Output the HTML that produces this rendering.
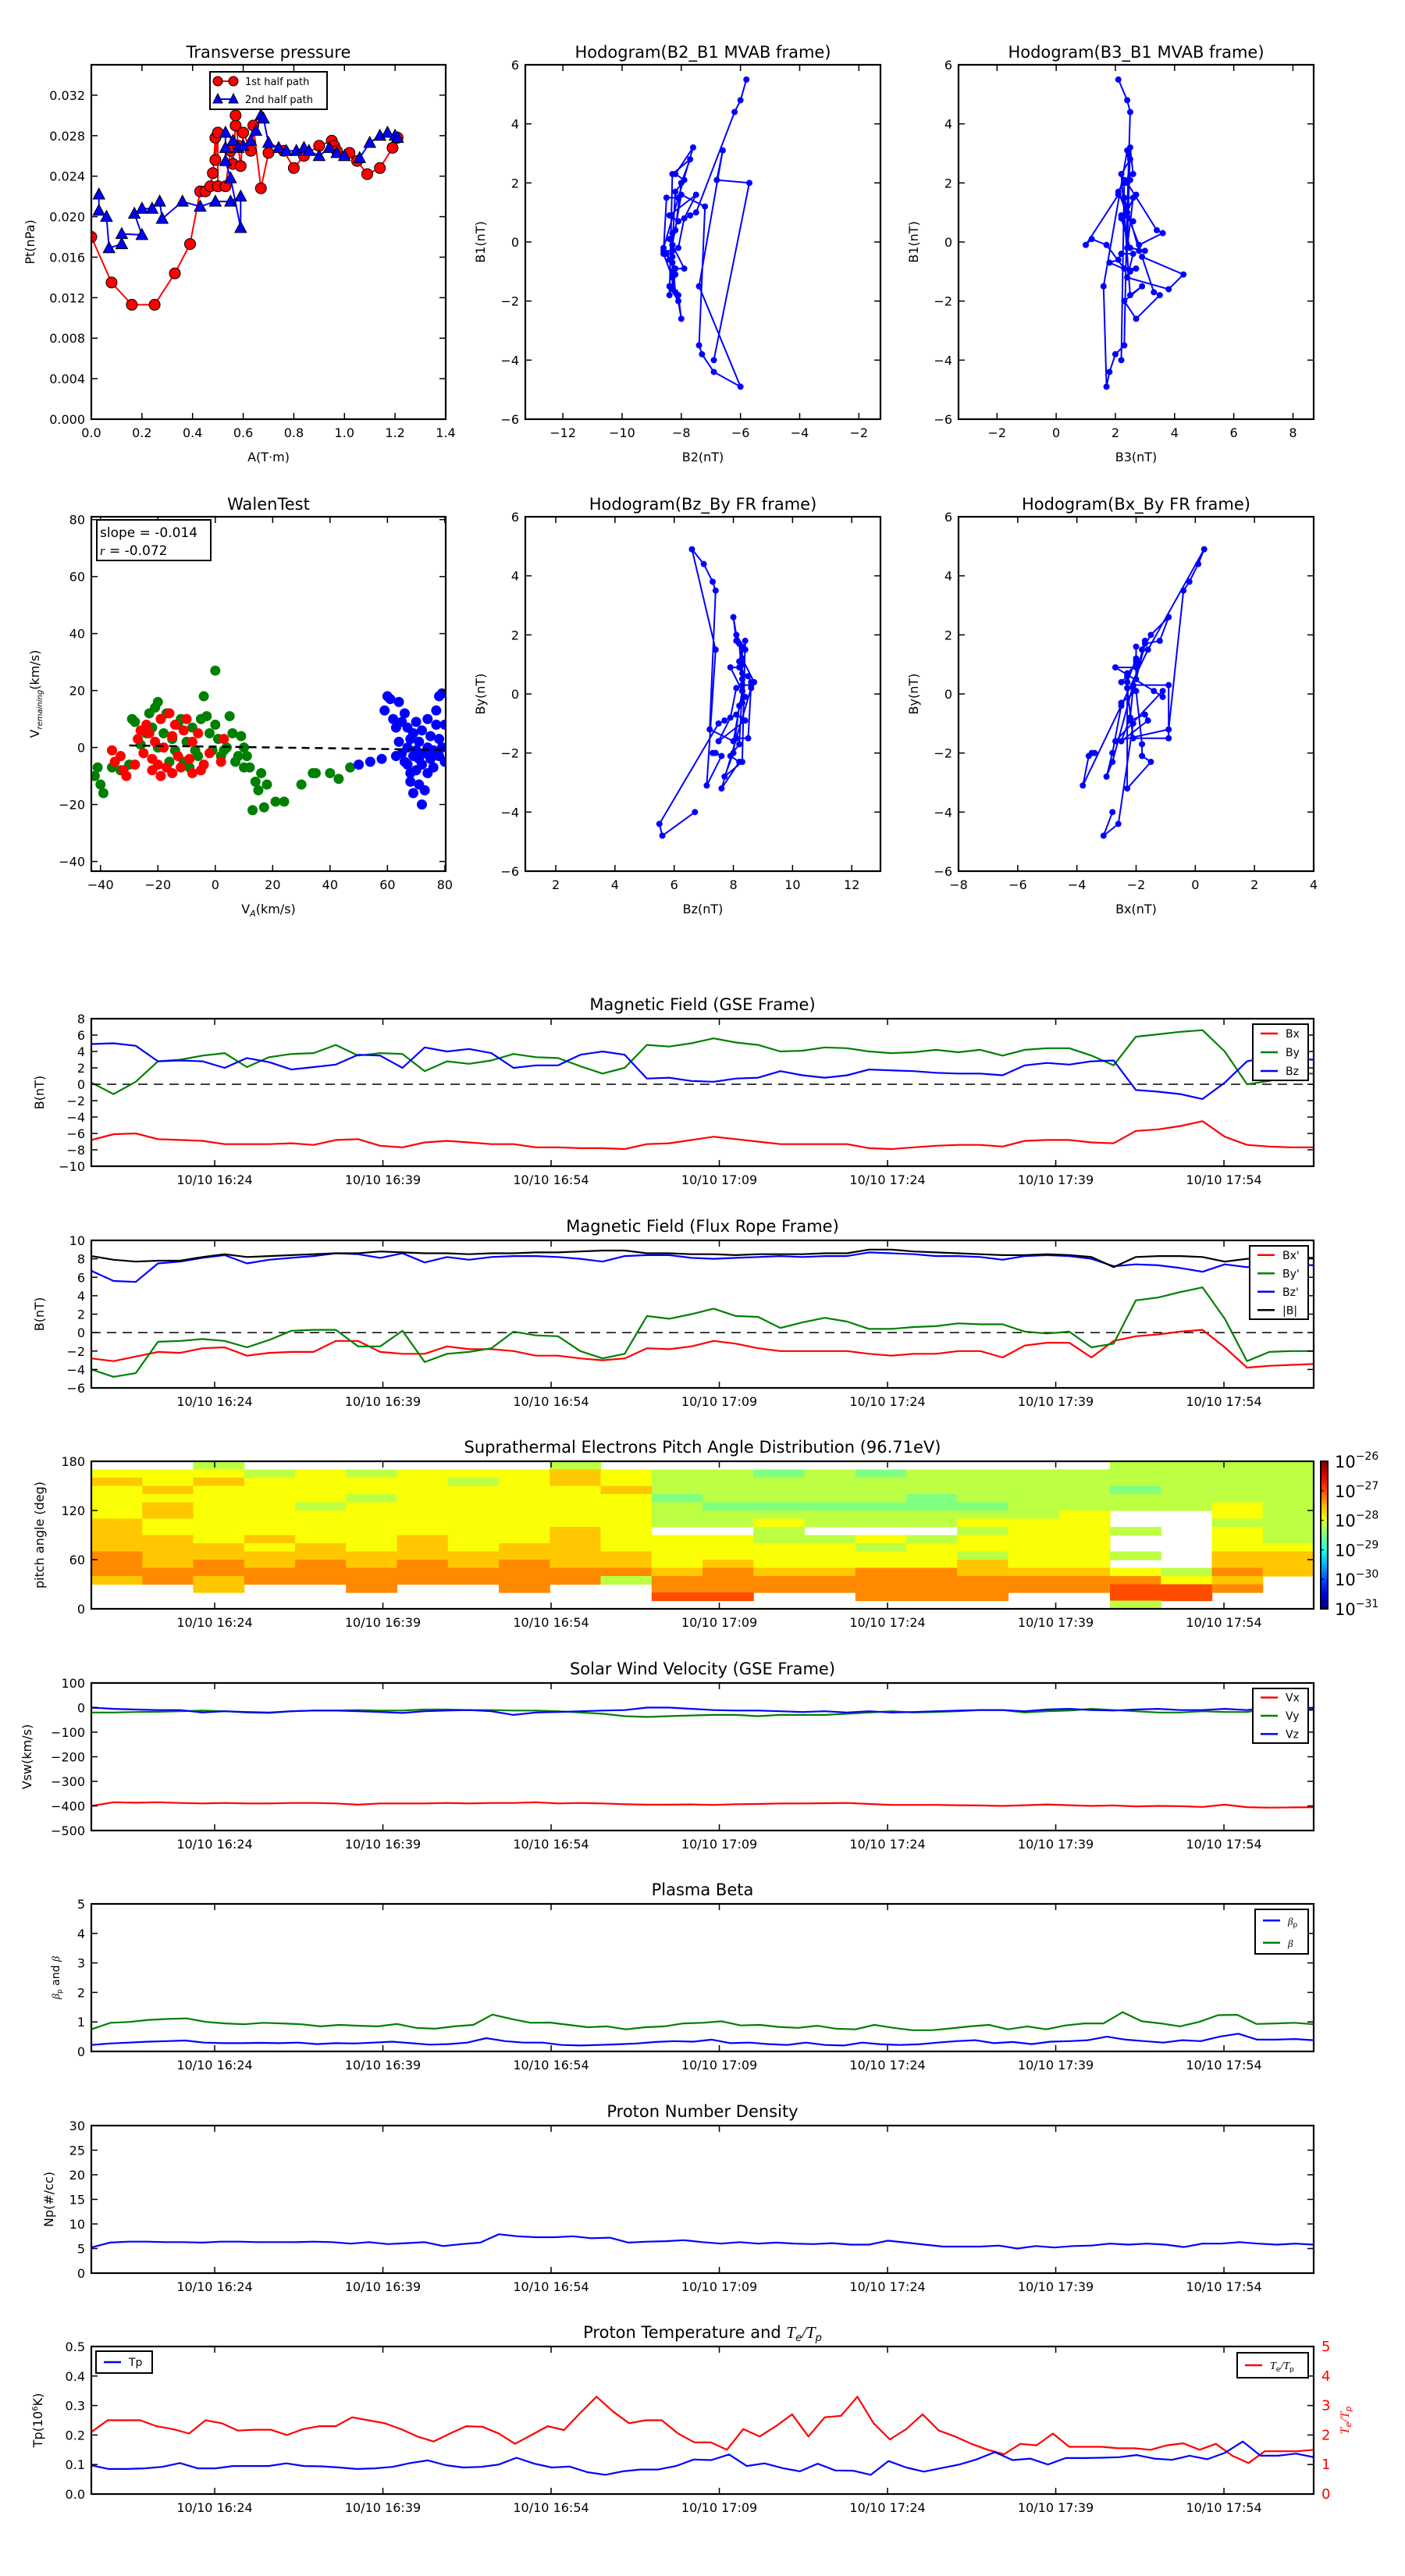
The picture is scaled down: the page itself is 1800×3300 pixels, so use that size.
<!DOCTYPE html>
<html><head><meta charset="utf-8"><title>Flux rope analysis</title>
<style>
html,body{margin:0;padding:0;background:#fff;}
svg{display:block;}
text{font-family:"DejaVu Sans","Liberation Sans",sans-serif;}
</style></head>
<body>
<svg id="fig" width="1800" height="3300" viewBox="0 0 1800 3300" xmlns="http://www.w3.org/2000/svg">
<rect x="0" y="0" width="1800" height="3300" fill="#fff"/>
</svg>
<script>
// ---------------- DATA ----------------
const tp1A = [0,0.08,0.16,0.25,0.33,0.39,0.43,0.45,0.47,0.48,0.49,0.49,0.5,0.5,0.53,0.55,0.56,0.57,0.57,0.58,0.59,0.6,0.63,0.64,0.67,0.7,0.76,0.8,0.84,0.9,0.95,0.96,0.97,1.02,1.05,1.09,1.14,1.19,1.21];
const tp1P = [0.018,0.0135,0.0113,0.0113,0.0144,0.0173,0.0225,0.0225,0.023,0.0243,0.0278,0.0256,0.0283,0.023,0.023,0.0265,0.0252,0.029,0.030,0.027,0.025,0.0283,0.0265,0.029,0.0228,0.0263,0.0265,0.0248,0.026,0.027,0.0275,0.027,0.0265,0.0263,0.0255,0.0242,0.0248,0.0268,0.0278];
const tp2A = [0.03,0.03,0.06,0.07,0.12,0.12,0.2,0.17,0.2,0.24,0.27,0.28,0.36,0.43,0.49,0.55,0.59,0.59,0.55,0.53,0.53,0.53,0.56,0.58,0.6,0.63,0.65,0.67,0.68,0.7,0.74,0.77,0.81,0.84,0.86,0.9,0.94,0.97,1.0,1.06,1.1,1.14,1.17,1.2,1.21];
const tp2P = [0.0222,0.0206,0.020,0.0169,0.0173,0.0183,0.0182,0.0203,0.0208,0.0208,0.0215,0.0198,0.0215,0.021,0.0215,0.0215,0.022,0.0189,0.0238,0.0255,0.0268,0.0283,0.0275,0.0268,0.027,0.0275,0.0285,0.030,0.0297,0.0273,0.0268,0.0265,0.0265,0.0268,0.0265,0.026,0.0268,0.0263,0.026,0.0258,0.0273,0.028,0.0283,0.028,0.0278];

const mvB1 = [5.5,4.8,4.4,1.0,0.9,0.7,0.9,1.6,0.8,-0.2,-0.3,-0.3,1.5,1.5,-0.2,3.2,2.3,2.1,1.7,-0.1,0.3,0.4,2.0,2.8,2.3,-1.8,-1.5,-2.0,-2.6,-1.8,-1.7,-0.5,-1.1,-1.6,-1.2,-0.4,-0.4,-0.6,-0.7,-1.0,-0.9,-0.9,-0.1,0.1,-0.1,1.6,1.2,-3.5,-3.8,-4.4,-4.9,-1.5,3.1,2.1,2.0,-4.0];
const mvB2 = [-5.8,-6.0,-6.2,-7.5,-7.7,-8.1,-8.4,-7.5,-7.9,-8.1,-8.3,-8.6,-8.5,-8.1,-8.6,-7.6,-8.2,-7.9,-8.2,-8.3,-8.3,-8.2,-8.0,-7.7,-8.3,-8.4,-8.4,-8.1,-8.0,-8.1,-8.2,-8.3,-8.2,-8.3,-8.3,-8.6,-8.5,-8.4,-8.3,-8.3,-8.2,-7.9,-8.3,-8.4,-8.3,-8.0,-7.2,-7.4,-7.3,-6.9,-6.0,-7.4,-6.6,-6.8,-5.7,-6.9];
const mvB3 = [2.1,2.4,2.5,2.4,2.2,2.6,2.3,2.7,2.2,2.5,3.0,2.8,2.3,2.6,2.4,2.5,2.6,2.3,2.1,2.8,3.6,3.4,2.4,2.5,2.2,2.5,2.9,2.3,2.7,3.5,3.3,2.9,4.3,3.8,2.4,2.6,2.2,2.1,1.8,2.5,2.7,2.3,1.7,1.2,1.0,2.1,2.4,2.3,2.0,1.8,1.7,1.6,2.4,2.5,2.3,2.2];

const gseBx = [-6.8,-6.1,-6.0,-6.7,-6.8,-6.9,-7.3,-7.3,-7.3,-7.2,-7.4,-6.8,-6.7,-7.5,-7.7,-7.1,-6.9,-7.1,-7.3,-7.3,-7.7,-7.7,-7.8,-7.8,-7.9,-7.3,-7.2,-6.8,-6.4,-6.7,-7.0,-7.3,-7.3,-7.3,-7.3,-7.8,-7.9,-7.7,-7.5,-7.4,-7.4,-7.6,-6.9,-6.8,-6.8,-7.1,-7.2,-5.7,-5.5,-5.1,-4.5,-6.4,-7.4,-7.6,-7.7,-7.7];
const gseBy = [0.2,-1.2,0.3,2.8,3.0,3.5,3.8,2.1,3.3,3.7,3.8,4.8,3.5,3.8,3.7,1.6,2.8,2.5,2.9,3.7,3.3,3.2,2.2,1.3,2.0,4.8,4.6,5.0,5.6,5.1,4.8,4.0,4.1,4.5,4.4,4.0,3.8,3.9,4.2,3.9,4.2,3.5,4.2,4.4,4.4,3.5,2.3,5.8,6.1,6.4,6.6,4.0,0.0,0.4,1.3,1.3];
const gseBz = [4.9,5.0,4.7,2.8,2.9,2.8,2.0,3.2,2.7,1.8,2.1,2.4,3.6,3.5,2.0,4.5,4.0,4.3,3.8,2.0,2.3,2.3,3.6,4.0,3.6,0.7,0.8,0.4,0.3,0.7,0.8,1.6,1.1,0.8,1.1,1.8,1.7,1.6,1.4,1.3,1.3,1.1,2.3,2.6,2.4,2.8,2.9,-0.7,-0.9,-1.2,-1.8,0.2,2.8,3.3,3.1,3.0];

const frBx = [-2.8,-3.1,-2.6,-2.1,-2.2,-1.7,-1.6,-2.5,-2.2,-2.1,-2.1,-0.9,-0.9,-2.1,-2.3,-2.3,-1.5,-1.8,-1.8,-2.0,-2.5,-2.5,-2.8,-3.0,-2.8,-1.7,-1.8,-1.5,-0.9,-1.2,-1.7,-2.0,-2.0,-2.0,-2.0,-2.3,-2.5,-2.3,-2.3,-2.0,-2.0,-2.7,-1.4,-1.1,-1.1,-2.7,-0.9,-0.4,-0.2,0.1,0.3,-1.6,-3.8,-3.6,-3.5,-3.4];
const frBy = [-4.0,-4.8,-4.4,-1.0,-0.9,-0.7,-0.9,-1.6,-0.8,0.2,0.3,0.3,-1.5,-1.5,0.2,-3.2,-2.3,-2.1,-1.7,0.1,-0.3,-0.4,-2.0,-2.8,-2.3,1.8,1.5,2.0,2.6,1.8,1.7,0.5,1.1,1.6,1.2,0.4,0.4,0.6,0.7,1.0,0.9,0.9,0.1,-0.1,0.1,-1.6,-1.2,3.5,3.8,4.4,4.9,1.5,-3.1,-2.1,-2.0,-2.0];
const frBz = [6.7,5.6,5.5,7.5,7.7,8.1,8.4,7.5,7.9,8.1,8.3,8.6,8.5,8.1,8.6,7.6,8.2,7.9,8.2,8.3,8.3,8.2,8.0,7.7,8.3,8.4,8.4,8.1,8.0,8.1,8.2,8.3,8.2,8.3,8.3,8.7,8.6,8.5,8.3,8.3,8.2,7.9,8.3,8.4,8.3,8.0,7.2,7.4,7.3,7.0,6.6,7.4,7.1,7.6,7.4,7.3];
const frBt = [8.3,7.9,7.7,7.8,7.8,8.2,8.5,8.2,8.3,8.4,8.5,8.6,8.6,8.8,8.7,8.6,8.6,8.5,8.6,8.6,8.7,8.7,8.8,8.9,8.9,8.6,8.6,8.5,8.5,8.4,8.5,8.5,8.5,8.6,8.6,9.0,9.0,8.8,8.7,8.6,8.5,8.4,8.4,8.5,8.4,8.2,7.1,8.2,8.3,8.3,8.2,7.7,8.0,8.1,8.1,8.1];

const padLevels = {'g':-28.5,'l':-28.2,'y':-27.9,'o':-27.6,'O':-27.3,'r':-27.0};
const padRows = [
 "..l......l.........." + "llll",
 "yyylylyyyoyllglgllll" + "llll",
 "oyoyyyylyoylllllllll" + "llll",
 "yoyyyyyyyyolllllllll" + "glll",
 "yyyyylyyyyygllllglll" + "llll",
 "yoyylyyyyyylggggggll" + "llyl",
 "yoyyyyyyyyylllllllly" + "..yl",
 "oyyyyyyyyyyllylllyyy" + "..ll",
 "oyyyyyyyyoy..l...lyy" + "l.yl",
 "ooyoyyoyyoyyyllylyyy" + "..yl",
 "oooyoyoyooyyyyylyyyy" + "..yy",
 "Oooooooooooyyyyyylyy" + "l.oo",
 "OoOoOoOoOooyoyyyyoyy" + "..oo",
 "OOOOOOOOOOOoOooOOooo" + "ylOo",
 "oOoOOOOOOOlOOOOOOOOO" + "Oyo.",
 "..o..O..O..OOOOOOOOO" + "rrO.",
 "...........rr..OOO.." + "rr..",
 "...................." + "l..."
];

const swVx = [-400,-385,-387,-385,-388,-390,-388,-390,-390,-388,-388,-390,-395,-390,-390,-390,-388,-390,-388,-388,-385,-390,-388,-390,-393,-395,-395,-394,-396,-393,-392,-390,-390,-389,-388,-392,-396,-396,-396,-397,-398,-400,-397,-394,-397,-400,-398,-402,-400,-401,-404,-395,-405,-407,-406,-405];
const swVy = [-20,-20,-18,-17,-15,-12,-15,-20,-22,-15,-12,-12,-10,-12,-12,-8,-8,-10,-10,-12,-12,-15,-20,-25,-35,-38,-35,-32,-30,-30,-35,-30,-30,-30,-25,-20,-15,-20,-18,-15,-10,-10,-20,-15,-12,-5,-10,-15,-20,-20,-15,-18,-18,-5,-10,-10];
const swVz = [0,-5,-8,-10,-10,-20,-15,-18,-20,-15,-12,-12,-15,-18,-22,-15,-12,-10,-15,-30,-20,-18,-15,-12,-10,0,0,-5,-10,-12,-12,-15,-18,-15,-20,-15,-20,-18,-15,-12,-10,-10,-15,-8,-5,-10,-12,-8,-5,-10,-10,-5,-10,0,-15,-5];

const betaAll = [0.75,0.97,1.0,1.07,1.1,1.12,1.0,0.95,0.92,0.97,0.95,0.92,0.85,0.9,0.87,0.85,0.93,0.8,0.77,0.85,0.9,1.25,1.1,0.97,0.98,0.9,0.82,0.85,0.75,0.82,0.85,0.95,0.97,1.02,0.88,0.9,0.83,0.8,0.87,0.77,0.75,0.9,0.8,0.72,0.72,0.78,0.85,0.9,0.75,0.85,0.75,0.88,0.95,0.95,1.33,1.02,0.95,0.85,1.0,1.23,1.24,0.93,0.95,0.97,0.92];
const betaP = [0.22,0.27,0.3,0.33,0.35,0.37,0.3,0.28,0.28,0.29,0.28,0.3,0.25,0.28,0.27,0.3,0.33,0.28,0.23,0.25,0.3,0.45,0.35,0.3,0.3,0.22,0.2,0.22,0.24,0.27,0.32,0.35,0.33,0.4,0.28,0.3,0.25,0.22,0.3,0.22,0.2,0.3,0.24,0.22,0.24,0.3,0.35,0.38,0.28,0.32,0.25,0.33,0.35,0.38,0.5,0.4,0.35,0.3,0.38,0.35,0.5,0.6,0.4,0.4,0.42,0.38];

const npVals = [5.2,6.2,6.4,6.4,6.3,6.3,6.2,6.4,6.4,6.3,6.3,6.3,6.4,6.3,6.0,6.3,5.9,6.1,6.3,5.5,5.9,6.2,7.9,7.5,7.3,7.3,7.5,7.1,7.2,6.2,6.4,6.5,6.7,6.3,6.0,6.3,6.0,6.2,6.0,5.9,6.1,5.8,5.8,6.6,6.2,5.8,5.4,5.4,5.4,5.6,5.0,5.5,5.2,5.5,5.6,6.0,5.8,6.0,5.8,5.3,6.0,6.0,6.3,6.0,5.8,6.0,5.8];

const tpVals = [0.097,0.085,0.085,0.087,0.092,0.105,0.087,0.087,0.095,0.095,0.095,0.104,0.095,0.094,0.09,0.085,0.087,0.092,0.105,0.114,0.098,0.09,0.092,0.1,0.123,0.103,0.09,0.093,0.074,0.065,0.077,0.083,0.083,0.095,0.117,0.115,0.134,0.095,0.104,0.088,0.077,0.103,0.08,0.079,0.065,0.112,0.09,0.076,0.088,0.1,0.118,0.142,0.115,0.12,0.1,0.122,0.122,0.123,0.125,0.132,0.12,0.116,0.13,0.118,0.14,0.178,0.13,0.13,0.137,0.125];
const teTpVals = [2.1,2.5,2.5,2.5,2.3,2.2,2.05,2.5,2.4,2.15,2.18,2.18,2.0,2.2,2.3,2.3,2.6,2.5,2.4,2.2,1.95,1.78,2.05,2.3,2.28,2.05,1.7,2.0,2.3,2.17,2.75,3.3,2.8,2.4,2.5,2.5,2.05,1.75,1.75,1.5,2.2,1.95,2.3,2.7,1.95,2.6,2.65,3.3,2.4,1.85,2.2,2.7,2.15,1.95,1.7,1.5,1.35,1.7,1.65,2.05,1.6,1.6,1.6,1.55,1.55,1.5,1.65,1.72,1.5,1.7,1.3,1.05,1.45,1.45,1.45,1.5];

const walRedX = [-36,-33,-35,-32,-31,-28,-27,-26,-25,-24,-23,-22,-22,-21,-20,-19,-19,-18,-17,-16,-15,-15,-14,-13,-12,-11,-10,-9,-8,-8,-6,-5,-4,-2,2,3];
const walRedY = [-1,-3,-5,-8,-10,-6,3,6,-2,8,5,-4,-8,2,-6,10,-10,0,-7,12,4,-9,8,-3,-7,6,10,-4,2,-9,5,-8,-6,-2,-5,3];
const walGreenX = [-42,-41,-40,-39,-36,-33,-30,-29,-28,-26,-24,-23,-22,-21,-20,-20,-19,-18,-17,-16,-15,-14,-13,-12,-11,-10,-9,-8,-7,-6,-5,-4,-3,-2,-1,0,0,1,2,3,4,5,6,7,8,9,10,10,11,12,13,14,15,16,17,18,21,24,30,34,35,40,43,47];
const walGreenY = [-10,-7,-13,-16,-7,-8,-6,10,9,1,5,12,7,14,16,0,10,5,12,-5,3,-1,8,10,-5,2,-7,7,-1,-3,10,18,11,5,-1,27,8,3,-3,-1,0,11,5,-5,-3,4,-7,0,-3,-7,-22,-12,-15,-9,-21,-13,-19,-19,-13,-9,-9,-9,-11,-7];
const walBlueX = [50,54,58,59,60,61,62,63,63,64,64,65,65,66,66,67,67,67,68,68,68,69,69,69,70,70,70,71,71,71,72,72,72,73,73,74,74,74,75,75,76,76,77,77,78,78,78,79,79,80,80];
const walBlueY = [-6,-5,-4,13,18,17,10,7,-3,16,2,-2,9,-5,12,0,-6,7,-9,3,-12,5,-3,-16,9,-1,-8,-4,2,-13,-20,-6,6,-2,-15,-9,0,10,-4,4,-7,-1,8,13,-3,3,18,19,0,8,-5];
const walSlope = -0.014;
const walIntercept = 0.3;

const timeRange = [0, 109];
const timeTicks = [11, 26, 41, 56, 71, 86, 101];
const timeTickLabels = ['10/10 16:24','10/10 16:39','10/10 16:54','10/10 17:09','10/10 17:24','10/10 17:39','10/10 17:54'];

// ---------------- DRAWING ----------------
const NS = 'http://www.w3.org/2000/svg';
const svg = document.getElementById('fig');
let clipN = 0;
function mk(tag, attrs, parent) {
  const e = document.createElementNS(NS, tag);
  for (const k in attrs) e.setAttribute(k, attrs[k]);
  (parent || svg).appendChild(e);
  return e;
}
function txt(str, x, y, attrs, parent) {
  const t = mk('text', Object.assign({x: x, y: y, 'font-size': 16, fill: '#000'}, attrs || {}), parent);
  t.textContent = str;
  return t;
}
function makeAxes(name, x0, y0, w, h, xr, yr) {
  const g = mk('g', {});
  
  
  const id = 'clip' + (clipN++);
  const cp = mk('clipPath', {id: id}, g);
  mk('rect', {x: x0, y: y0, width: w, height: h}, cp);
  const plot = mk('g', {'clip-path': 'url(#' + id + ')'}, g);
  
  
  const sx = v => x0 + (v - xr[0]) / (xr[1] - xr[0]) * w;
  const sy = v => y0 + h - (v - yr[0]) / (yr[1] - yr[0]) * h;
  return {g, plot, sx, sy, x0, y0, w, h, name};
}
function frame(ax) {
  const r = mk('rect', {x: ax.x0, y: ax.y0, width: ax.w, height: ax.h, fill: 'none', stroke: '#000', 'stroke-width': 2.2}, ax.g);
  
  
}
function xTicks(ax, vals, labels, size) {
  const gt = mk('g', {}, ax.g);
  
  
  vals.forEach((v, i) => {
    const x = ax.sx(v);
    mk('line', {x1: x, x2: x, y1: ax.y0 + ax.h, y2: ax.y0 + ax.h - 8, stroke: '#000', 'stroke-width': 1.5}, gt);
    mk('line', {x1: x, x2: x, y1: ax.y0, y2: ax.y0 + 8, stroke: '#000', 'stroke-width': 1.5}, gt);
    const t = txt(labels[i], x, ax.y0 + ax.h + 23, {'text-anchor': 'middle', 'font-size': size || 16}, gt);
    
    
  });
}
function yTicks(ax, vals, labels, size, right, color) {
  const gt = mk('g', {}, ax.g);
  
  
  vals.forEach((v, i) => {
    const y = ax.sy(v);
    if (!right) {
      mk('line', {x1: ax.x0, x2: ax.x0 + 8, y1: y, y2: y, stroke: '#000', 'stroke-width': 1.5}, gt);
      mk('line', {x1: ax.x0 + ax.w, x2: ax.x0 + ax.w - 8, y1: y, y2: y, stroke: '#000', 'stroke-width': 1.5}, gt);
      const t = txt(labels[i], ax.x0 - 8, y + 6, {'text-anchor': 'end', 'font-size': size || 16}, gt);
      
      
    } else {
      const t = txt(labels[i], ax.x0 + ax.w + 10, y + 6, {'text-anchor': 'start', 'font-size': size || 16, fill: color}, gt);
      
      
    }
  });
}
function title(ax, str, y) {
  const t = txt(str, ax.x0 + ax.w / 2, y, {'text-anchor': 'middle', 'font-size': 21}, ax.g);
  
  
  return t;
}
function yLabel(ax, str, x) {
  const cy = ax.y0 + ax.h / 2;
  const t = txt(str, x, cy, {'text-anchor': 'middle', 'font-size': 16, transform: 'rotate(-90 ' + x + ' ' + cy + ')'}, ax.g);
  
  
  return t;
}
function xLabel(ax, str, y) {
  const t = txt(str, ax.x0 + ax.w / 2, y, {'text-anchor': 'middle', 'font-size': 16}, ax.g);
  
  
  return t;
}
function series(ax, vals, color, name, yscale) {
  const sy = yscale || ax.sy;
  const n = vals.length;
  const pts = vals.map((v, i) => ax.sx(timeRange[0] + i * (timeRange[1] - timeRange[0]) / (n - 1)).toFixed(1) + ',' + sy(v).toFixed(1)).join(' ');
  const p = mk('polyline', {points: pts, fill: 'none', stroke: color, 'stroke-width': 2.2, 'stroke-linejoin': 'round'}, ax.plot);
  
  
  return p;
}
function zeroLine(ax, v) {
  const y = ax.sy(v);
  const l = mk('line', {x1: ax.x0, x2: ax.x0 + ax.w, y1: y, y2: y, stroke: '#000', 'stroke-width': 1.5, 'stroke-dasharray': '12,8'}, ax.plot);
  
  
}
function legend(ax, x, y, w, h, entries, fs) {
  const g = mk('g', {}, ax.g);
  
  
  mk('rect', {x: x, y: y, width: w, height: h, fill: '#fff', stroke: '#000', 'stroke-width': 2}, g);
  const step = h / entries.length;
  entries.forEach((e, i) => {
    const cy = y + step * (i + 0.5);
    const eg = mk('g', {}, g);
    
    
    mk('line', {x1: x + 10, x2: x + 32, y1: cy, y2: cy, stroke: e.color, 'stroke-width': 2.5}, eg);
    const t = txt('', x + 42, cy + 5, {'font-size': fs || 14}, eg);
    t.innerHTML = e.label;
  });
}
function hodogram(name, x0, xr, xs, ys, xticks, xlab, ylab, ttl, y0) {
  const ax = makeAxes(name, x0, y0, 455, 454, xr, [-6, 6]);
  const pts = xs.map((v, i) => ax.sx(v).toFixed(1) + ',' + ax.sy(ys[i]).toFixed(1)).join(' ');
  const pl = mk('polyline', {points: pts, fill: 'none', stroke: '#0000ff', 'stroke-width': 2}, ax.plot);
  
  
  xs.forEach((v, i) => {
    const c = mk('circle', {cx: ax.sx(v), cy: ax.sy(ys[i]), r: 4, fill: '#0000ff'}, ax.plot);
    
    
  });
  frame(ax);
  xTicks(ax, xticks, xticks.map(v => String(v).replace('-', '\u2212')));
  const yt = [-6, -4, -2, 0, 2, 4, 6];
  yTicks(ax, yt, yt.map(v => String(v).replace('-', '\u2212')));
  title(ax, ttl, y0 - 9);
  xLabel(ax, xlab, y0 + 454 + 54);
  yLabel(ax, ylab, x0 - 52);
  return ax;
}

// ---- Transverse pressure ----
(function () {
  const ax = makeAxes('transverse-pressure-chart', 117, 83, 454, 454, [0, 1.4], [0, 0.035]);
  const p1 = tp1A.map((v, i) => ax.sx(v).toFixed(1) + ',' + ax.sy(tp1P[i]).toFixed(1)).join(' ');
  const l1 = mk('polyline', {points: p1, fill: 'none', stroke: '#ff0000', 'stroke-width': 2}, ax.plot);
  
  
  const p2 = tp2A.map((v, i) => ax.sx(v).toFixed(1) + ',' + ax.sy(tp2P[i]).toFixed(1)).join(' ');
  const l2 = mk('polyline', {points: p2, fill: 'none', stroke: '#0000ff', 'stroke-width': 2}, ax.plot);
  
  
  tp1A.forEach((v, i) => {
    const c = mk('circle', {cx: ax.sx(v), cy: ax.sy(tp1P[i]), r: 7, fill: '#ff0000', stroke: '#000', 'stroke-width': 1}, ax.plot);
    
    
  });
  tp2A.forEach((v, i) => {
    const x = ax.sx(v), y = ax.sy(tp2P[i]);
    const t = mk('polygon', {points: `${x},${y - 8} ${x - 7.5},${y + 6} ${x + 7.5},${y + 6}`, fill: '#0000ff', stroke: '#000', 'stroke-width': 1}, ax.plot);
    
    
  });
  frame(ax);
  const xt = [0, 0.2, 0.4, 0.6, 0.8, 1.0, 1.2, 1.4];
  xTicks(ax, xt, xt.map(v => v.toFixed(1)));
  const yt = [0, 0.004, 0.008, 0.012, 0.016, 0.020, 0.024, 0.028, 0.032];
  yTicks(ax, yt, yt.map(v => v.toFixed(3)));
  title(ax, 'Transverse pressure', 74);
  xLabel(ax, 'A(T\u00b7m)', 591);
  yLabel(ax, 'Pt(nPa)', 44);
  const g = mk('g', {}, ax.g);
  
  
  mk('rect', {x: 269, y: 92, width: 150, height: 48, fill: '#fff', stroke: '#000', 'stroke-width': 2}, g);
  const e1 = mk('g', {}, g);
  
  
  mk('line', {x1: 279, x2: 299, y1: 104, y2: 104, stroke: '#ff0000', 'stroke-width': 2}, e1);
  mk('circle', {cx: 279, cy: 104, r: 6, fill: '#ff0000', stroke: '#000'}, e1);
  mk('circle', {cx: 299, cy: 104, r: 6, fill: '#ff0000', stroke: '#000'}, e1);
  txt('1st half path', 314, 109, {'font-size': 13}, e1);
  const e2 = mk('g', {}, g);
  
  
  mk('line', {x1: 279, x2: 299, y1: 127, y2: 127, stroke: '#0000ff', 'stroke-width': 2}, e2);
  mk('polygon', {points: '279,120 273,132 285,132', fill: '#0000ff', stroke: '#000'}, e2);
  mk('polygon', {points: '299,120 293,132 305,132', fill: '#0000ff', stroke: '#000'}, e2);
  txt('2nd half path', 314, 132, {'font-size': 13}, e2);
})();

hodogram('hodogram-b2-b1', 673, [-13.27, -1.27], mvB2, mvB1, [-12, -10, -8, -6, -4, -2], 'B2(nT)', 'B1(nT)', 'Hodogram(B2_B1 MVAB frame)', 83);
hodogram('hodogram-b3-b1', 1228, [-3.3, 8.7], mvB3, mvB1, [-2, 0, 2, 4, 6, 8], 'B3(nT)', 'B1(nT)', 'Hodogram(B3_B1 MVAB frame)', 83);
hodogram('hodogram-bz-by', 673, [0.97, 12.97], frBz, frBy, [2, 4, 6, 8, 10, 12], 'Bz(nT)', 'By(nT)', 'Hodogram(Bz_By FR frame)', 662);
hodogram('hodogram-bx-by', 1228, [-8, 4], frBx, frBy, [-8, -6, -4, -2, 0, 2, 4], 'Bx(nT)', 'By(nT)', 'Hodogram(Bx_By FR frame)', 662);

// ---- Walén test ----
(function () {
  const ax = makeAxes('walen-test-chart', 117, 662, 454, 454, [-43.2, 80.3], [-43.4, 81]);
  function pts(xs, ys, color, nm) {
    xs.forEach((v, i) => {
      const c = mk('circle', {cx: ax.sx(v), cy: ax.sy(ys[i]), r: 6.5, fill: color}, ax.plot);
      
      
    });
  }
  pts(walGreenX, walGreenY, '#008000', 'walen-point-green');
  pts(walRedX, walRedY, '#ff0000', 'walen-point-red');
  pts(walBlueX, walBlueY, '#0000ff', 'walen-point-blue');
  const fit = mk('line', {x1: ax.sx(-30), x2: ax.sx(80), y1: ax.sy(walIntercept + walSlope * -30), y2: ax.sy(walIntercept + walSlope * 80), stroke: '#000', 'stroke-width': 2.5, 'stroke-dasharray': '10,7'}, ax.plot);
  
  
  frame(ax);
  const xt = [-40, -20, 0, 20, 40, 60, 80];
  xTicks(ax, xt, xt.map(v => String(v).replace('-', '\u2212')));
  const yt = [-40, -20, 0, 20, 40, 60, 80];
  yTicks(ax, yt, yt.map(v => String(v).replace('-', '\u2212')));
  title(ax, 'WalenTest', 662 - 9);
  const xl = xLabel(ax, '', 1116 + 54);
  xl.innerHTML = 'V<tspan font-size="11" dy="4" font-style="italic">A</tspan><tspan dy="-4">(km/s)</tspan>';
  const yl = yLabel(ax, '', 50);
  yl.innerHTML = 'V<tspan font-size="10" dy="4" font-style="italic">remaining</tspan><tspan dy="-4">(km/s)</tspan>';
  const bx = mk('g', {}, ax.g);
  
  
  mk('rect', {x: 124, y: 666, width: 146, height: 52, fill: '#fff', stroke: '#000', 'stroke-width': 2}, bx);
  txt('slope = ' + walSlope.toFixed(3), 128, 688, {'font-size': 17}, bx);
  const rt = txt('', 128, 711, {'font-size': 17}, bx);
  rt.innerHTML = '<tspan font-style="italic" font-family="Liberation Serif, serif">r</tspan> = -0.072';
})();

// ---- time series panels ----
const tsX = 117, tsW = 1566, tsH = 189;
function tsAxes(name, y0, yr) {
  return makeAxes(name, tsX, y0, tsW, tsH, timeRange, yr);
}
function tsFinish(ax, yt, ylab, ttl, ylabX) {
  frame(ax);
  xTicks(ax, timeTicks, timeTickLabels);
  yTicks(ax, yt, yt.map(v => String(v).replace('-', '\u2212')));
  title(ax, ttl, ax.y0 - 11);
  if (ylab) yLabel(ax, ylab, ylabX || 56);
}

(function () {
  const ax = tsAxes('magnetic-field-gse-chart', 1305, [-10, 8]);
  zeroLine(ax, 0);
  series(ax, gseBx, '#ff0000', 'gse-bx-line');
  series(ax, gseBy, '#008000', 'gse-by-line');
  series(ax, gseBz, '#0000ff', 'gse-bz-line');
  tsFinish(ax, [-10, -8, -6, -4, -2, 0, 2, 4, 6, 8], 'B(nT)', 'Magnetic Field (GSE Frame)');
  legend(ax, 1605, 1312, 71, 72, [{color: '#ff0000', label: 'Bx'}, {color: '#008000', label: 'By'}, {color: '#0000ff', label: 'Bz'}]);
})();

(function () {
  const ax = tsAxes('magnetic-field-flux-rope-chart', 1589, [-6, 10]);
  zeroLine(ax, 0);
  series(ax, frBx, '#ff0000', 'fr-bx-line');
  series(ax, frBy, '#008000', 'fr-by-line');
  series(ax, frBz, '#0000ff', 'fr-bz-line');
  series(ax, frBt, '#000000', 'fr-btotal-line');
  tsFinish(ax, [-6, -4, -2, 0, 2, 4, 6, 8, 10], 'B(nT)', 'Magnetic Field (Flux Rope Frame)');
  legend(ax, 1601, 1596, 75, 94, [{color: '#ff0000', label: "Bx'"}, {color: '#008000', label: "By'"}, {color: '#0000ff', label: "Bz'"}, {color: '#000000', label: '|B|'}]);
})();

function jet(x) {
  const c = v => Math.round(255 * Math.max(0, Math.min(1, v)));
  return `rgb(${c(1.5 - Math.abs(4 * x - 3))},${c(1.5 - Math.abs(4 * x - 2))},${c(1.5 - Math.abs(4 * x - 1))})`;
}
(function () {
  const ax = tsAxes('pitch-angle-distribution-chart', 1872, [0, 180]);
  const ncol = padRows[0].length;
  padRows.forEach((row, r) => {
    for (let j = 0; j < ncol; j++) {
      const code = row[j];
      if (!(code in padLevels)) continue;
      const v = padLevels[code];
      const xa = ax.sx(j * 109 / ncol), xb = ax.sx((j + 1) * 109 / ncol);
      const ya = ax.sy(180 - 10 * r), yb = ax.sy(170 - 10 * r);
      const cell = mk('rect', {x: xa.toFixed(1), y: ya.toFixed(1), width: (xb - xa + 0.6).toFixed(1), height: (yb - ya + 0.6).toFixed(1), fill: jet((v + 31) / 5)}, ax.plot);
      
      
    }
  });
  tsFinish(ax, [0, 60, 120, 180], 'pitch angle (deg)', 'Suprathermal Electrons Pitch Angle Distribution (96.71eV)');
  const cb = mk('g', {});
  
  
  const defs = mk('defs', {}, cb);
  const lg = mk('linearGradient', {id: 'jetgrad', x1: 0, y1: 1, x2: 0, y2: 0}, defs);
  for (let i = 0; i <= 10; i++) mk('stop', {offset: i / 10, 'stop-color': jet(i / 10)}, lg);
  mk('rect', {x: 1692, y: 1872, width: 9, height: 189, fill: 'url(#jetgrad)', stroke: '#000', 'stroke-width': 2}, cb);
  const exps = [-31, -30, -29, -28, -27, -26];
  exps.forEach((e, i) => {
    const y = 2061 - i * 189 / 5;
    mk('line', {x1: 1692, x2: 1696, y1: y, y2: y, stroke: '#000'}, cb);
    const t = txt('', 1710, y + 8, {'font-size': 21}, cb);
    t.innerHTML = '10<tspan font-size="14" dy="-10">' + e.toString().replace('-', '\u2212') + '</tspan>';
    
    
  });
})();

(function () {
  const ax = tsAxes('solar-wind-velocity-chart', 2156, [-500, 100]);
  series(ax, swVx, '#ff0000', 'sw-vx-line');
  series(ax, swVy, '#008000', 'sw-vy-line');
  series(ax, swVz, '#0000ff', 'sw-vz-line');
  tsFinish(ax, [-500, -400, -300, -200, -100, 0, 100], 'Vsw(km/s)', 'Solar Wind Velocity (GSE Frame)', 40);
  legend(ax, 1605, 2163, 71, 70, [{color: '#ff0000', label: 'Vx'}, {color: '#008000', label: 'Vy'}, {color: '#0000ff', label: 'Vz'}]);
})();

(function () {
  const ax = tsAxes('plasma-beta-chart', 2439, [0, 5]);
  series(ax, betaP, '#0000ff', 'beta-proton-line');
  series(ax, betaAll, '#008000', 'beta-total-line');
  frame(ax);
  xTicks(ax, timeTicks, timeTickLabels);
  yTicks(ax, [0, 1, 2, 3, 4, 5], ['0', '1', '2', '3', '4', '5']);
  title(ax, 'Plasma Beta', ax.y0 - 11);
  const yl = yLabel(ax, '', 76);
  yl.setAttribute('font-size', 14);
  yl.innerHTML = '<tspan font-style="italic" font-family="Liberation Serif, serif">\u03b2</tspan><tspan font-size="9" dy="3">p</tspan><tspan dy="-3"> and </tspan><tspan font-style="italic" font-family="Liberation Serif, serif">\u03b2</tspan>';
  legend(ax, 1608, 2446, 68, 57, [{color: '#0000ff', label: '<tspan font-style="italic" font-family="Liberation Serif, serif">\u03b2</tspan><tspan font-size="9" dy="3">p</tspan>'}, {color: '#008000', label: '<tspan font-style="italic" font-family="Liberation Serif, serif">\u03b2</tspan>'}], 13);
})();

(function () {
  const ax = tsAxes('proton-density-chart', 2723, [0, 30]);
  series(ax, npVals, '#0000ff', 'proton-density-line');
  tsFinish(ax, [0, 5, 10, 15, 20, 25, 30], 'Np(#/cc)', 'Proton Number Density', 68);
})();

(function () {
  const ax = tsAxes('proton-temperature-chart', 3006, [0, 0.5]);
  const syR = v => ax.y0 + ax.h - v / 5 * ax.h;
  series(ax, teTpVals, '#ff0000', 'te-tp-ratio-line', syR);
  series(ax, tpVals, '#0000ff', 'proton-temperature-line');
  frame(ax);
  xTicks(ax, timeTicks, timeTickLabels);
  const yt = [0, 0.1, 0.2, 0.3, 0.4, 0.5];
  yTicks(ax, yt, yt.map(v => v.toFixed(1)));
  const rt = [0, 1, 2, 3, 4, 5];
  yTicks({g: ax.g, name: ax.name, x0: ax.x0, w: ax.w, sy: syR}, rt, rt.map(String), 18, true, '#ff0000');
  const tt = title(ax, '', ax.y0 - 11);
  tt.innerHTML = 'Proton Temperature and <tspan font-style="italic" font-family="Liberation Serif, serif">T</tspan><tspan font-size="13" dy="4" font-style="italic">e</tspan><tspan dy="-4" font-style="italic" font-family="Liberation Serif, serif">/T</tspan><tspan font-size="13" dy="4" font-style="italic">p</tspan>';
  const yl = yLabel(ax, '', 54);
  yl.innerHTML = 'Tp(10<tspan font-size="10" dy="-6">6</tspan><tspan dy="6">K)</tspan>';
  const cy = ax.y0 + ax.h / 2;
  const ry = txt('', 1728, cy, {'text-anchor': 'middle', fill: '#ff0000', 'font-size': 16, transform: 'rotate(-90 1728 ' + cy + ')'}, ax.g);
  ry.innerHTML = '<tspan font-style="italic" font-family="Liberation Serif, serif">T</tspan><tspan font-size="11" dy="3" font-style="italic">e</tspan><tspan dy="-3" font-style="italic" font-family="Liberation Serif, serif">/T</tspan><tspan font-size="11" dy="3" font-style="italic">p</tspan>';
  
  
  legend(ax, 123, 3012, 72, 28, [{color: '#0000ff', label: 'Tp'}]);
  legend(ax, 1585, 3014, 91, 32, [{color: '#ff0000', label: '<tspan font-style="italic" font-family="Liberation Serif, serif">T</tspan><tspan font-size="9" dy="3">e</tspan><tspan dy="-3" font-style="italic" font-family="Liberation Serif, serif">/T</tspan><tspan font-size="9" dy="3">p</tspan>'}]);
})();
</script>
</body></html>
